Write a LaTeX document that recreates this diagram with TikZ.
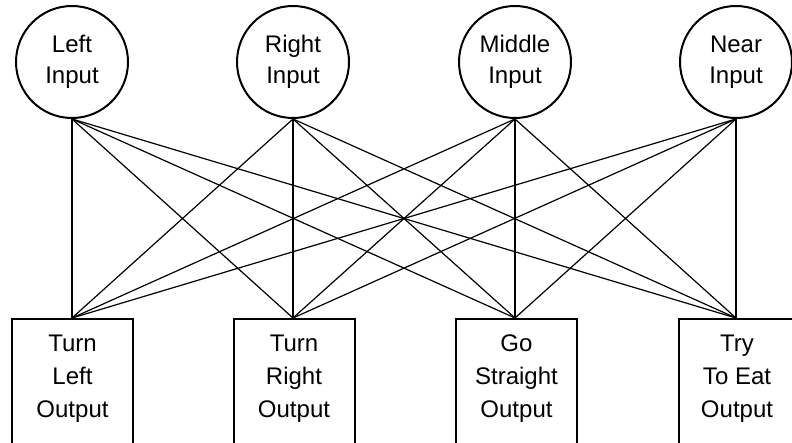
\documentclass[tikz,border=0pt]{standalone}
\usepackage{fontspec}
\setmainfont{Liberation Sans}
\usepackage{tikz}

\begin{document}
\begin{tikzpicture}[x=1pt,y=1pt,semithick]
    \tikzstyle{unit}=[circle, draw, line width=2pt, minimum size=112pt, inner sep=0pt,
        align=center, font=\fontsize{24}{31}\selectfont]
    \tikzstyle{outbox}=[rectangle, draw, line width=2pt, minimum width=121pt,
        minimum height=150pt, anchor=north]
    \tikzstyle{outtext}=[align=center, font=\fontsize{24}{33}\selectfont]
    \tikzstyle{wire}=[line width=1.2pt]
    \path[use as bounding box, clip] (0,0) rectangle (792,442);

    % input units
    \node[unit] (leftin) at (72,380) {Left\\Input};
    \node[unit] (rightin) at (293,380) {Right\\Input};
    \node[unit] (middlein) at (515,380) {Middle\\Input};
    \node[unit] (nearin) at (736,380) {Near\\Input};

    % output units
    \node[outbox] (turnleft) at (72.5,124) {};
    \node[outbox] (turnright) at (294,124) {};
    \node[outbox] (gostraight) at (516.5,124) {};
    \node[outbox] (tryeat) at (739,124) {};
    \node[outtext] (turnlefttxt) at (72.5,63) {Turn\\Left\\Output};
    \node[outtext] (turnrighttxt) at (294,63) {Turn\\Right\\Output};
    \node[outtext] (gostraighttxt) at (516.5,63) {Go\\Straight\\Output};
    \node[outtext] (tryeattxt) at (737,63) {Try\\To Eat\\Output};

    \foreach \i in {leftin,rightin,middlein,nearin}
        \foreach \o/\x in {turnleft/72,turnright/293,gostraight/515,tryeat/736}
            \draw[wire] (\i.south) -- (\o.north -| \x,0);
\end{tikzpicture}
\end{document}
